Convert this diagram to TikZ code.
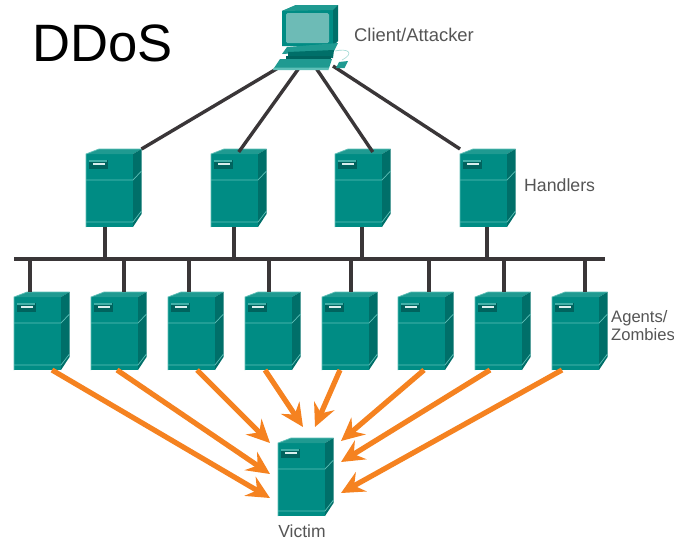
\documentclass[tikz,border=0pt]{standalone}
\usepackage{fontspec}
\setmainfont{Liberation Sans}
\usetikzlibrary{arrows.meta,calc}
\definecolor{tfront}{HTML}{008C84}
\definecolor{ttop}{HTML}{1F9A91}
\definecolor{tside}{HTML}{006F69}
\definecolor{tedge}{HTML}{5FC0B8}
\definecolor{tdark}{HTML}{00635E}
\definecolor{tscreen}{HTML}{6DBBB6}
\definecolor{wire}{HTML}{3A3638}
\definecolor{zap}{HTML}{F58220}
\definecolor{lab}{HTML}{555555}
\tikzset{
  srv/.style={minimum width=55.5pt,minimum height=78pt,inner sep=0pt,outer sep=0pt},
  wirel/.style={draw=wire,line width=3.4pt},
  atk/.style={draw=zap,line width=5.2pt,-{Stealth[length=23pt,width=22pt,inset=8pt]}},
  lbl/.style={text=lab,inner sep=0pt,align=left},
}
\newcommand{\srvbox}[3]{% name, left x, back-top y
  \node[srv] (#1) at (#2+27.75,#3+39) {};
  \begin{scope}[shift={(#2,#3)}]
    \fill[tfront] (0,5) -- (47,5) -- (47,78) -- (0,78) -- cycle;
    \fill[ttop] (0,5) -- (13,0) -- (55.5,0) -- (47,5) -- cycle;
    \fill[tside] (47,5) -- (55.5,0) -- (55.5,65) -- (47,78) -- cycle;
    \draw[tedge,line width=.7pt] (0,78) -- (0,5) -- (13,0) -- (55.5,0);
    \draw[tedge,line width=.7pt] (0,31) -- (47,31) -- (55.5,22);
    \draw[tedge,line width=.7pt] (0,73) -- (47,73) -- (55.5,62);
    \fill[tdark] (3,11) rectangle (22,20);
    \fill[tedge!70!tfront] (3,11) rectangle (21,13);
    \fill[white!85!tfront] (6.5,14) rectangle (18.5,16.2);
  \end{scope}
}
\begin{document}
\begin{tikzpicture}[x=1pt,y=-1pt]
\useasboundingbox (0,0) rectangle (674,542);
\fill[white] (0,0) rectangle (674,542);
% named anchors
\coordinate (pc1) at (278,68);
\coordinate (pc2) at (299,68);
\coordinate (pc3) at (316,68);
\coordinate (pc4) at (333,66);
\coordinate (busL) at (14,259);
\coordinate (busR) at (605,259);
\foreach \n/\x in {1/105,2/234,3/362,4/487}{\coordinate (hb\n) at (\x,259);}
\foreach \n/\x in {1/30,2/124,3/189,4/269,5/351,6/429,7/504,8/585}{\coordinate (ab\n) at (\x,259);}
\coordinate (v1) at (270,498);
\coordinate (v2) at (270,474);
\coordinate (v3) at (270,443);
\coordinate (v4) at (303,427);
\coordinate (v5) at (315,427);
\coordinate (v6) at (341,441);
\coordinate (v7) at (341,462);
\coordinate (v8) at (341,493);
% servers
\foreach \n/\x in {1/86,2/211,3/335,4/460}{\srvbox{h\n}{\x}{149}}
\foreach \n/\x in {1/14,2/91,3/168,4/245,5/322,6/398,7/475,8/552}{\srvbox{a\n}{\x}{292}}
\srvbox{vic}{278}{438}
% wires
\draw[wirel] (pc1) -- (h1.north east);
\draw[wirel] (pc2) -- ($(h2.north)+(0,3)$);
\draw[wirel] (pc3) -- ($(h3.north)+(10,3)$);
\draw[wirel] (pc4) -- (h4.north west);
\draw[wirel] (busL) -- (busR);
\foreach \n in {1,2,3,4}{\draw[wirel] (hb\n) -- (hb\n |- h\n.south);}
\foreach \n in {1,...,8}{\draw[wirel] (ab\n) -- (ab\n |- a\n.north);}
% computer
\node[minimum width=70pt,minimum height=66pt,inner sep=0pt] (pc) at (308,37) {};
\fill[tfront] (282,11) -- (296,5) -- (338,5) -- (333,10) -- (333,46) -- (282,46) -- cycle;
\fill[ttop] (282,11) -- (296,5) -- (338,5) -- (333,10) -- cycle;
\fill[tside] (333,10) -- (338,5) -- (338,41) -- (333,46) -- cycle;
\fill[tscreen,rounded corners=1.5pt] (286,13) rectangle (329,43);
\fill[ttop] (287,47) -- (338,43) -- (334,51) -- (282,54) -- cycle;
\fill[tside] (288,52) -- (334,50) -- (333,58) -- (288,60) -- cycle;
\fill[tdark] (286,56) rectangle (331,60);
\fill[ttop] (280,59) -- (332,59) -- (329,68) -- (274,68) -- cycle;
\fill[tedge] (274,67.5) -- (329,67.5) -- (328.5,70) -- (273,70) -- cycle;
\fill[ttop] (339,62) -- (348,61) -- (344.5,68) -- (336,68) -- cycle;
\draw[tedge!60!white,line width=.6pt] (335,51) .. controls (348,48) and (355,53) .. (342,60);
% attack arrows
\draw[atk] (a1.south west)++(38,0) -- (v1);
\draw[atk] (a2.south west)++(26,0) -- (v2);
\draw[atk] (a3.south west)++(29,0) -- (v3);
\draw[atk] (a4.south west)++(20,0) -- (v4);
\draw[atk] (a5.south west)++(18,0) -- (v5);
\draw[atk] (a6.south west)++(26,0) -- (v6);
\draw[atk] (a7.south west)++(15,0) -- (v7);
\draw[atk] (a8.south west)++(10,0) -- (v8);
% labels
\node[anchor=west,inner sep=0pt,font=\fontsize{52.6pt}{56pt}\selectfont,text=black] (title) at (32,43) {DDoS};
\node[lbl,anchor=west,font=\fontsize{18.4pt}{20pt}\selectfont] (lc) at (354,35) {Client/Attacker};
\node[lbl,anchor=west,font=\fontsize{17.7pt}{20pt}\selectfont] (lh) at (524,185) {Handlers};
\node[lbl,anchor=north west,font=\fontsize{16.6pt}{18pt}\selectfont] (la) at (611,310) {Agents/\\Zombies};
\node[lbl,anchor=center,font=\fontsize{17.5pt}{20pt}\selectfont] (lv) at (302,531.5) {Victim};
\end{tikzpicture}
\end{document}
